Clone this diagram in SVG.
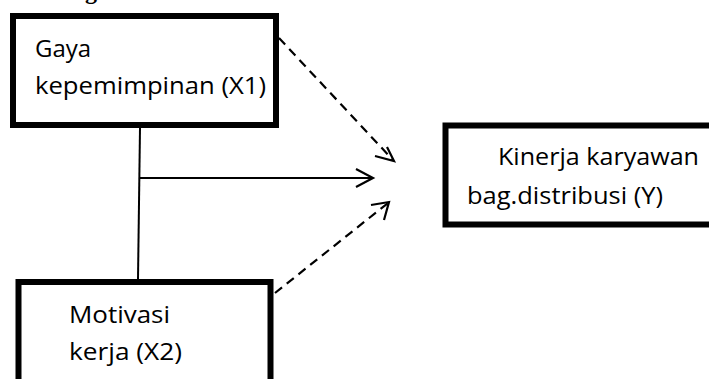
<svg xmlns="http://www.w3.org/2000/svg" width="709" height="379" viewBox="0 0 709 379">
<style>
.box{fill:#fff;stroke:#000;stroke-width:6}
.lbl{font-family:"Open Sans","Liberation Sans",sans-serif;font-size:24px;fill:#000}
.solid{stroke:#000;stroke-width:2;fill:none}
.dash{stroke:#000;stroke-width:2.2;fill:none;stroke-dasharray:9 6}
.head{stroke:#000;stroke-width:2.2;fill:none}
</style>
<rect width="709" height="379" fill="#fff"/>
<text x="85" y="-1" font-family="Liberation Serif,serif" font-weight="bold" font-size="24">g</text>
<g id="connectors">
<line class="solid" x1="140" y1="128" x2="138" y2="279"/>
<line class="solid" x1="139" y1="178" x2="372" y2="178"/>
<polyline class="head" points="356,169 373,178 356,187"/>
<line class="dash" x1="279" y1="38" x2="393" y2="160"/>
<polyline class="head" points="375,156 394,161 387,147"/>
<line class="dash" x1="275" y1="293" x2="388" y2="203"/>
<polyline class="head" points="371,205 389,202 384,220"/>
</g>
<g id="node-x1">
<rect class="box" x="13" y="16" width="263" height="109"/>
<text class="lbl" x="35" y="57">Gaya</text>
<text class="lbl" x="35" y="94" textLength="231" lengthAdjust="spacingAndGlyphs">kepemimpinan (X1)</text>
</g>
<g id="node-x2">
<rect class="box" x="18.5" y="282" width="252" height="120"/>
<text class="lbl" x="69" y="323" textLength="101" lengthAdjust="spacingAndGlyphs">Motivasi</text>
<text class="lbl" x="69" y="360" textLength="113" lengthAdjust="spacingAndGlyphs">kerja (X2)</text>
</g>
<g id="node-y">
<rect class="box" x="445.5" y="125.5" width="300" height="99"/>
<text class="lbl" x="498" y="165" textLength="201" lengthAdjust="spacingAndGlyphs">Kinerja karyawan</text>
<text class="lbl" x="467" y="204" textLength="196" lengthAdjust="spacingAndGlyphs">bag.distribusi (Y)</text>
</g>
</svg>
